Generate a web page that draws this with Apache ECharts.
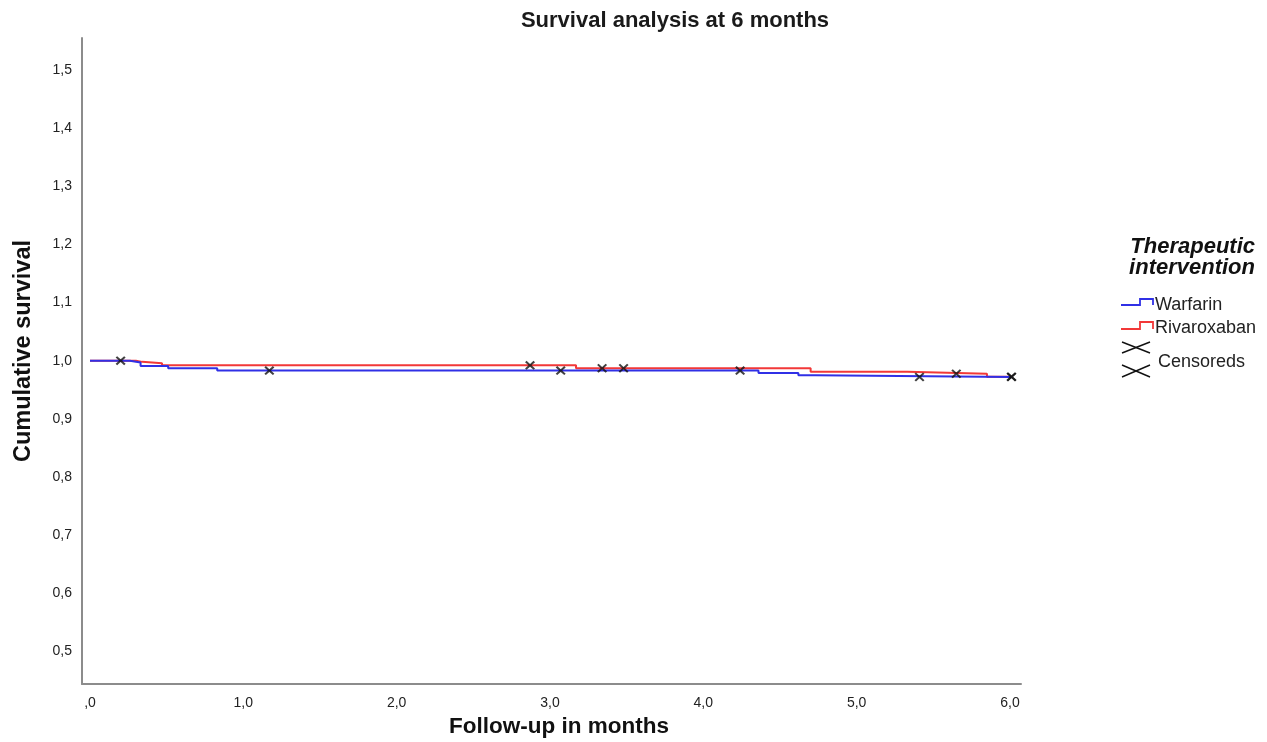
<!DOCTYPE html>
<html><head><meta charset="utf-8">
<script src="https://cdn.jsdelivr.net/npm/echarts@6/dist/echarts.min.js"></script>
<style>html,body{margin:0;padding:0;background:#fff}#c{width:1267px;height:742px}</style>
</head><body><div id="c"></div>
<script>
// ---- data ----
const xTicks = [0, 1, 2, 3, 4, 5, 6];
const yTicks = [0.5, 0.6, 0.7, 0.8, 0.9, 1.0, 1.1, 1.2, 1.3, 1.4, 1.5];
const warfarinTimes = [0, 0.26, 0.33, 0.51, 0.83, 4.36, 4.62, 4.73, 6.01];
const warfarinSurv  = [1, 0.997, 0.991, 0.987, 0.983, 0.979, 0.975, 0.972, 0.972];
const rivaTimes = [0, 0.30, 0.34, 0.47, 3.17, 4.70, 5.33, 5.85, 6.01];
const rivaSurv  = [1, 0.998, 0.9955, 0.992, 0.987, 0.981, 0.9776, 0.9725, 0.9725];
const censWarfarinTimes = [0.20, 1.17, 3.07, 4.24, 5.41, 6.01];
const censWarfarinSurv  = [1, 0.983, 0.983, 0.983, 0.972, 0.972];
const censRivaTimes = [2.87, 3.34, 3.48, 5.65, 6.01];
const censRivaSurv  = [0.992, 0.987, 0.987, 0.9776, 0.9725];

const BLUE = '#3030e6', RED = '#f23838';
const XSYM = 'path://M0,1.5 L1.5,0 L5,3.5 L8.5,0 L10,1.5 L6.5,5 L10,8.5 L8.5,10 L5,6.5 L1.5,10 L0,8.5 L3.5,5 Z';
const zip = (a, b) => a.map((v, i) => [v, b[i]]);
// Kaplan-Meier step path: horizontal at previous value until event time, then drop
const steps = (t, s) => {
  const out = [[t[0], s[0]]];
  for (let i = 1; i < t.length; i++) { out.push([t[i], s[i - 1]]); out.push([t[i], s[i]]); }
  return out;
};
const fmt = v => (v === 0 ? ',0' : v.toFixed(1).replace('.', ','));
const FONT = '"Liberation Sans", Arial, sans-serif';

const chart = echarts.init(document.getElementById('c'), null, {renderer: 'canvas'});
chart.setOption({
  animation: false,
  backgroundColor: '#fff',
  grid: {left: 82, right: 246, top: 38, bottom: 58},
  xAxis: {
    type: 'value', min: -0.052, max: 6.072,
    axisLine: {show: true, onZero: false, lineStyle: {color: '#8c8c8c', width: 2}},
    axisTick: {show: false}, splitLine: {show: false},
    axisLabel: {customValues: xTicks, formatter: fmt, color: '#222', fontSize: 14, fontFamily: FONT, margin: 12}
  },
  yAxis: {
    type: 'value', min: 0.444, max: 1.555,
    axisLine: {show: true, onZero: false, lineStyle: {color: '#8c8c8c', width: 2}},
    axisTick: {show: false}, splitLine: {show: false},
    axisLabel: {customValues: yTicks, formatter: v => v.toFixed(1).replace('.', ','), color: '#222', fontSize: 14, fontFamily: FONT, margin: 10}
  },
  series: [
    {name: 'Warfarin', type: 'line', showSymbol: false, data: steps(warfarinTimes, warfarinSurv),
     lineStyle: {color: BLUE, width: 2}, z: 3},
    {name: 'Rivaroxaban', type: 'line', showSymbol: false, data: steps(rivaTimes, rivaSurv),
     lineStyle: {color: RED, width: 2}, z: 2},
    {name: 'Censored W', type: 'scatter', symbol: XSYM, symbolSize: [10, 9], data: zip(censWarfarinTimes, censWarfarinSurv),
     itemStyle: {color: '#111'}, z: 5},
    {name: 'Censored R', type: 'scatter', symbol: XSYM, symbolSize: [10, 9], data: zip(censRivaTimes, censRivaSurv),
     itemStyle: {color: '#111'}, z: 5}
  ],
  graphic: [
    {type: 'text', x: 675, y: 21, style: {text: 'Survival analysis at 6 months', textAlign: 'center', textVerticalAlign: 'middle', font: 'bold 22px ' + FONT, fill: '#1a1a1a'}},
    {type: 'text', x: 559, y: 727, style: {text: 'Follow-up in months', textAlign: 'center', textVerticalAlign: 'middle', font: 'bold 22.5px ' + FONT, fill: '#111'}},
    {type: 'text', x: 24, y: 351, rotation: Math.PI / 2, style: {text: 'Cumulative survival', textAlign: 'center', textVerticalAlign: 'middle', font: 'bold 23.5px ' + FONT, fill: '#111'}},
    {type: 'text', x: 1255, y: 247, style: {text: 'Therapeutic', textAlign: 'right', textVerticalAlign: 'middle', font: 'italic bold 22px ' + FONT, fill: '#111'}},
    {type: 'text', x: 1255, y: 268, style: {text: 'intervention', textAlign: 'right', textVerticalAlign: 'middle', font: 'italic bold 22px ' + FONT, fill: '#111'}},
    {type: 'polyline', shape: {points: [[1121, 305], [1140, 305], [1140, 299], [1153, 299], [1153, 305]]}, style: {stroke: BLUE, lineWidth: 1.8, fill: null}},
    {type: 'text', x: 1155, y: 305, style: {text: 'Warfarin', textVerticalAlign: 'middle', font: '18px ' + FONT, fill: '#222'}},
    {type: 'polyline', shape: {points: [[1121, 329], [1140, 329], [1140, 322], [1153, 322], [1153, 329]]}, style: {stroke: RED, lineWidth: 1.8, fill: null}},
    {type: 'text', x: 1155, y: 328, style: {text: 'Rivaroxaban', textVerticalAlign: 'middle', font: '18px ' + FONT, fill: '#222'}},
    {type: 'line', shape: {x1: 1122, y1: 342, x2: 1150, y2: 353}, style: {stroke: '#111', lineWidth: 1.4}},
    {type: 'line', shape: {x1: 1122, y1: 353, x2: 1150, y2: 342}, style: {stroke: '#111', lineWidth: 1.4}},
    {type: 'line', shape: {x1: 1122, y1: 365, x2: 1150, y2: 377}, style: {stroke: '#111', lineWidth: 1.4}},
    {type: 'line', shape: {x1: 1122, y1: 377, x2: 1150, y2: 365}, style: {stroke: '#111', lineWidth: 1.4}},
    {type: 'text', x: 1158, y: 362, style: {text: 'Censoreds', textVerticalAlign: 'middle', font: '18px ' + FONT, fill: '#222'}}
  ]
});
</script></body></html>
